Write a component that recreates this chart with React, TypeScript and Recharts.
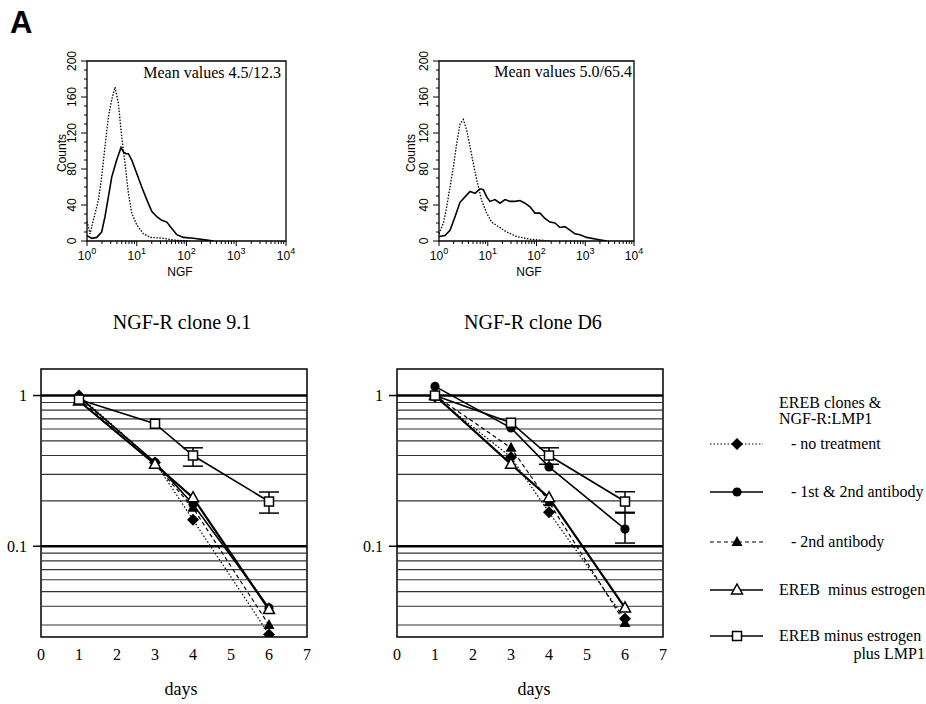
import React from 'react';
import { LineChart, Line, XAxis, YAxis, ReferenceArea, ReferenceLine, ErrorBar } from 'recharts';

const W = 926;
const H = 704;
const SERIF = '"Liberation Serif", "Times New Roman", serif';
const SANS = '"Liberation Sans", Arial, sans-serif';

// ---- histograms (NGF staining) ----
const hist1DottedNgf = [1, 1.15, 1.34, 1.69, 1.97, 2.3, 2.69, 3.14, 3.66, 4.27, 4.98, 5.82, 6.79, 7.93, 10, 13.6, 18.6, 34.4, 54.6, 117];
const hist1DottedCounts = [22, 8, 23, 45, 71, 105, 138, 157, 171, 153, 116, 86, 53, 31, 18, 8, 4, 3, 1, 0];
const hist1SolidNgf = [1, 1.24, 1.57, 1.97, 2.3, 2.69, 3.14, 3.95, 4.83, 5.39, 6.09, 6.79, 7.93, 10, 12.6, 15.9, 20, 25.3, 31.9, 40.2, 50.6, 63.7, 86.7, 138, 256, 350];
const hist1SolidCounts = [6, 3, 4, 10, 27, 49, 71, 90, 104, 99, 97, 97, 90, 75, 60, 46, 33, 27, 23, 21, 14, 7, 4, 3, 1, 0];

const hist2DottedNgf = [1, 1.23, 1.44, 1.68, 1.97, 2.3, 2.7, 3.16, 3.7, 4.33, 5.06, 5.93, 7.51, 9.51, 12, 16.5, 24.4, 39.2, 73.5, 189];
const hist2DottedCounts = [8, 20, 38, 60, 82, 108, 130, 135, 123, 105, 86, 68, 45, 31, 21, 16, 10, 5, 2, 0];
const hist2SolidNgf = [1, 1.33, 1.68, 2.13, 2.7, 3.42, 4.33, 5.48, 6.93, 8.12, 9.51, 11.1, 14.1, 17.8, 22.6, 28.6, 36.2, 45.9, 58, 73.5, 93, 118, 149, 189, 239, 303, 383, 485, 614, 778, 1070, 1700, 2760];
const hist2SolidCounts = [5, 6, 12, 27, 43, 49, 55, 53, 58, 57, 49, 44, 46, 42, 46, 44, 44, 45, 42, 38, 31, 31, 25, 21, 20, 15, 16, 12, 8, 7, 4, 2, 0];

const histMajorX = [1, 10, 100, 1000, 10000];
const histMinorX = histMajorX.slice(0, 4).flatMap((d) => [2, 3, 4, 5, 6, 7, 8, 9].map((k) => d * k));
const histXTicks = [...histMajorX, ...histMinorX].sort((a, b) => a - b);
const histYTicks = [0, 10, 20, 30, 40, 50, 60, 70, 80, 90, 100, 110, 120, 130, 140, 150, 160, 170, 180, 190, 200];

// ---- survival curves ----
const days = [1, 3, 4, 6];
const dayTicks = [0, 1, 2, 3, 4, 5, 6, 7];
const survivalTicks = [0.1, 1];
const minorGrid = [0.03, 0.04, 0.05, 0.06, 0.07, 0.08, 0.09, 0.2, 0.3, 0.4, 0.5, 0.6, 0.7, 0.8, 0.9];
const majorGrid = [0.1, 1];

// clone 9.1
const c91NoTreatment = [1.0, 0.36, 0.15, 0.026];
const c91FirstSecondAb = [0.98, 0.36, 0.19, 0.039];
const c91SecondAb = [0.95, 0.35, 0.18, 0.03];
const c91MinusEstrogen = [0.92, 0.35, 0.21, 0.038];
const c91PlusLmp1 = [0.94, 0.65, 0.4, 0.198];
const c91PlusLmp1Low = [null, null, 0.34, 0.166];
const c91PlusLmp1High = [null, null, 0.45, 0.229];

// clone D6
const d6NoTreatment = [0.98, 0.39, 0.168, 0.033];
const d6FirstSecondAb = [1.15, 0.61, 0.336, 0.13];
const d6SecondAb = [1.0, 0.45, 0.196, 0.031];
const d6MinusEstrogen = [1.0, 0.35, 0.21, 0.039];
const d6PlusLmp1 = [1.0, 0.66, 0.4, 0.198];
const d6PlusLmp1Low = [null, null, 0.35, 0.166];
const d6PlusLmp1High = [null, null, 0.45, 0.23];
const d6FirstSecondAbLow = [null, null, null, 0.105];
const d6FirstSecondAbHigh = [null, null, null, 0.168];

const legendLabels = ['- no treatment', '- 1st & 2nd antibody', '- 2nd antibody', 'EREB  minus estrogen', 'EREB minus estrogen'];

type Shape = 'diamond' | 'circle' | 'triangle' | 'openTriangle' | 'openSquare';

function marker(shape: Shape, cx: number, cy: number, key?: string) {
  switch (shape) {
    case 'diamond':
      return <polygon key={key} points={`${cx},${cy - 6} ${cx + 6},${cy} ${cx},${cy + 6} ${cx - 6},${cy}`} fill="#000" />;
    case 'circle':
      return <circle key={key} cx={cx} cy={cy} r={4.6} fill="#000" />;
    case 'triangle':
      return <polygon key={key} points={`${cx},${cy - 6} ${cx + 5.5},${cy + 4} ${cx - 5.5},${cy + 4}`} fill="#000" />;
    case 'openTriangle':
      return <polygon key={key} points={`${cx},${cy - 6} ${cx + 5.5},${cy + 4} ${cx - 5.5},${cy + 4}`} fill="#fff" stroke="#000" strokeWidth={1.5} />;
    default:
      return <rect key={key} x={cx - 4.5} y={cy - 4.5} width={9} height={9} fill="#fff" stroke="#000" strokeWidth={1.5} />;
  }
}

const seriesStyles = [
  { shape: 'diamond' as Shape, dash: '1.5 2', width: 1.2 },
  { shape: 'circle' as Shape, dash: undefined, width: 1.6 },
  { shape: 'triangle' as Shape, dash: '4 3', width: 1.2 },
  { shape: 'openTriangle' as Shape, dash: undefined, width: 2.2 },
  { shape: 'openSquare' as Shape, dash: undefined, width: 1.6 },
];

const toHist = (xs: number[], ys: number[]) => xs.map((x, i) => ({ ngf: x, counts: ys[i] }));
const toSeries = (vals: number[]) => days.map((d, i) => ({ day: d, v: vals[i] }));
const toErrors = (vals: number[], lo: (number | null)[], hi: (number | null)[]) =>
  days
    .map((d, i) => (lo[i] == null ? null : { day: d, v: vals[i], err: [vals[i] - (lo[i] as number), (hi[i] as number) - vals[i]] }))
    .filter(Boolean);

const HistXTick = (props: any) => {
  const { x, y, payload } = props;
  const v = payload.value;
  const major = histMajorX.includes(v);
  return (
    <g>
      <line x1={x} y1={y} x2={x} y2={y + (major ? 5 : 3)} stroke="#000" strokeWidth={1} />
      {major && (
        <text x={x} y={y + 19} textAnchor="middle" fontFamily={SANS} fontSize={12} fill="#000">
          10<tspan dy={-6} fontSize={9}>{Math.round(Math.log10(v))}</tspan>
        </text>
      )}
    </g>
  );
};

const HistYTick = (props: any) => {
  const { x, y, payload } = props;
  const major = payload.value % 40 === 0;
  return (
    <g>
      <line x1={x} y1={y} x2={x - (major ? 6 : 3)} y2={y} stroke="#000" strokeWidth={1} />
      {major && (
        <text x={x - 15} y={y} transform={`rotate(-90 ${x - 15} ${y})`} textAnchor="middle" dominantBaseline="central" fontFamily={SANS} fontSize={12} fill="#000">
          {payload.value}
        </text>
      )}
    </g>
  );
};

function Histogram({ left, right, dotted, solid }: { left: number; right: number; dotted: any[]; solid: any[] }) {
  return (
    <div style={{ position: 'absolute', left: 0, top: 0 }}>
      <LineChart width={W} height={H} margin={{ top: 61, left: left - 40, right: W - right, bottom: H - 241 - 30 }}>
        <XAxis dataKey="ngf" type="number" scale="log" domain={[1, 10000]} ticks={histXTicks} interval={0} tick={HistXTick} tickLine={false} axisLine={false} tickSize={0} tickMargin={0} height={30} allowDataOverflow />
        <YAxis type="number" domain={[0, 200]} ticks={histYTicks} interval={0} tick={HistYTick} tickLine={false} axisLine={false} tickSize={0} tickMargin={0} width={40} allowDataOverflow />
        <ReferenceArea x1={1} x2={10000} y1={0} y2={200} fill="none" stroke="#000" strokeWidth={1.3} fillOpacity={0} />
        <Line data={dotted} dataKey="counts" type="linear" stroke="#000" strokeWidth={1.3} strokeDasharray="1.5 1.5" dot={false} activeDot={false} isAnimationActive={false} />
        <Line data={solid} dataKey="counts" type="linear" stroke="#000" strokeWidth={1.6} dot={false} activeDot={false} isAnimationActive={false} />
      </LineChart>
    </div>
  );
}

function Survival({ left, right, values, errors }: { left: number; right: number; values: number[][]; errors: any[][] }) {
  return (
    <div style={{ position: 'absolute', left: 0, top: 0 }}>
      <LineChart width={W} height={H} margin={{ top: 369, left: left - 40, right: W - right, bottom: H - 637 - 30 }}>
        <XAxis dataKey="day" type="number" domain={[0, 7]} ticks={dayTicks} interval={0} tickLine={false} axisLine={false} tickSize={0} tickMargin={12} height={30} tick={{ fill: '#000', fontSize: 16, fontFamily: SERIF }} />
        <YAxis type="number" scale="log" domain={[0.025, 1.5]} ticks={survivalTicks} interval={0} allowDataOverflow axisLine={false} tickSize={8} tickMargin={6} width={40} tickLine={{ stroke: '#000', strokeWidth: 1.5 }} tickFormatter={(v: number) => String(v)} tick={{ fill: '#000', fontSize: 16, fontFamily: SERIF }} />
        {minorGrid.map((g) => (
          <ReferenceLine key={`g${g}`} y={g} stroke="#333" strokeWidth={1.1} />
        ))}
        {majorGrid.map((g) => (
          <ReferenceLine key={`m${g}`} y={g} stroke="#000" strokeWidth={2.5} />
        ))}
        <ReferenceArea x1={0} x2={7} y1={0.025} y2={1.5} fill="none" fillOpacity={0} stroke="#000" strokeWidth={1.5} />
        {errors.map((e, i) => (
          <Line key={`e${i}`} data={e} dataKey="v" stroke="none" dot={false} activeDot={false} isAnimationActive={false}>
            <ErrorBar dataKey="err" direction="y" width={10} stroke="#000" strokeWidth={1.5} />
          </Line>
        ))}
        {values.map((vals, i) => {
          const st = seriesStyles[i];
          return (
            <Line
              key={`s${i}`}
              data={toSeries(vals)}
              dataKey="v"
              type="linear"
              stroke="#000"
              strokeWidth={st.width}
              strokeDasharray={st.dash}
              dot={(p: any) => marker(st.shape, p.cx, p.cy, `d${i}-${p.index}`)}
              activeDot={false}
              isAnimationActive={false}
            />
          );
        })}
      </LineChart>
    </div>
  );
}

function Overlay() {
  const rowsY = [444, 492, 542, 590, 636];
  return (
    <svg width={W} height={H} style={{ position: 'absolute', left: 0, top: 0 }}>
      <text x={10} y={33} fontFamily={SANS} fontWeight="bold" fontSize={31} fill="#000">A</text>

      <text x={281} y={78} textAnchor="end" fontFamily={SERIF} fontSize={16} fill="#000">Mean values 4.5/12.3</text>
      <text x={632} y={77} textAnchor="end" fontFamily={SERIF} fontSize={16} fill="#000">Mean values 5.0/65.4</text>

      <text x={61.5} y={153} transform="rotate(-90 61.5 153)" textAnchor="middle" dominantBaseline="central" fontFamily={SANS} fontSize={12} fill="#000">Counts</text>
      <text x={411} y={153} transform="rotate(-90 411 153)" textAnchor="middle" dominantBaseline="central" fontFamily={SANS} fontSize={12} fill="#000">Counts</text>
      <text x={180} y={276} textAnchor="middle" fontFamily={SANS} fontSize={12} fill="#000">NGF</text>
      <text x={529} y={276} textAnchor="middle" fontFamily={SANS} fontSize={12} fill="#000">NGF</text>

      <text x={182} y={329} textAnchor="middle" fontFamily={SERIF} fontSize={20} fill="#000">NGF-R clone 9.1</text>
      <text x={533} y={329} textAnchor="middle" fontFamily={SERIF} fontSize={20} fill="#000">NGF-R clone D6</text>

      <text x={181} y={695} textAnchor="middle" fontFamily={SERIF} fontSize={18} fill="#000">days</text>
      <text x={534} y={695} textAnchor="middle" fontFamily={SERIF} fontSize={18} fill="#000">days</text>

      <text x={779} y={408} fontFamily={SERIF} fontSize={16} fill="#000">EREB clones &amp;</text>
      <text x={779} y={424} fontFamily={SERIF} fontSize={16} fill="#000">NGF-R:LMP1</text>
      {rowsY.map((y, i) => {
        const st = seriesStyles[i];
        const tx = i < 3 ? 791 : 779;
        return (
          <g key={`l${i}`}>
            <line x1={710} y1={y} x2={763} y2={y} stroke="#000" strokeWidth={Math.min(st.width, 1.6)} strokeDasharray={st.dash} />
            {marker(st.shape, 737, y)}
            <text x={tx} y={y + 5} fontFamily={SERIF} fontSize={16} fill="#000" style={{ whiteSpace: 'pre' }}>{legendLabels[i]}</text>
          </g>
        );
      })}
      <text x={925} y={659} textAnchor="end" fontFamily={SERIF} fontSize={16} fill="#000">plus LMP1</text>
    </svg>
  );
}

export default function App() {
  return (
    <div style={{ position: 'absolute', left: 0, top: 0, width: W, height: H, background: '#fff', overflow: 'hidden' }}>
      <Histogram left={87} right={286} dotted={toHist(hist1DottedNgf, hist1DottedCounts)} solid={toHist(hist1SolidNgf, hist1SolidCounts)} />
      <Histogram left={439} right={634} dotted={toHist(hist2DottedNgf, hist2DottedCounts)} solid={toHist(hist2SolidNgf, hist2SolidCounts)} />
      <Survival
        left={41}
        right={307}
        values={[c91NoTreatment, c91FirstSecondAb, c91SecondAb, c91MinusEstrogen, c91PlusLmp1]}
        errors={[toErrors(c91PlusLmp1, c91PlusLmp1Low, c91PlusLmp1High)]}
      />
      <Survival
        left={397}
        right={663}
        values={[d6NoTreatment, d6FirstSecondAb, d6SecondAb, d6MinusEstrogen, d6PlusLmp1]}
        errors={[toErrors(d6PlusLmp1, d6PlusLmp1Low, d6PlusLmp1High), toErrors(d6FirstSecondAb, d6FirstSecondAbLow, d6FirstSecondAbHigh)]}
      />
      <Overlay />
    </div>
  );
}
